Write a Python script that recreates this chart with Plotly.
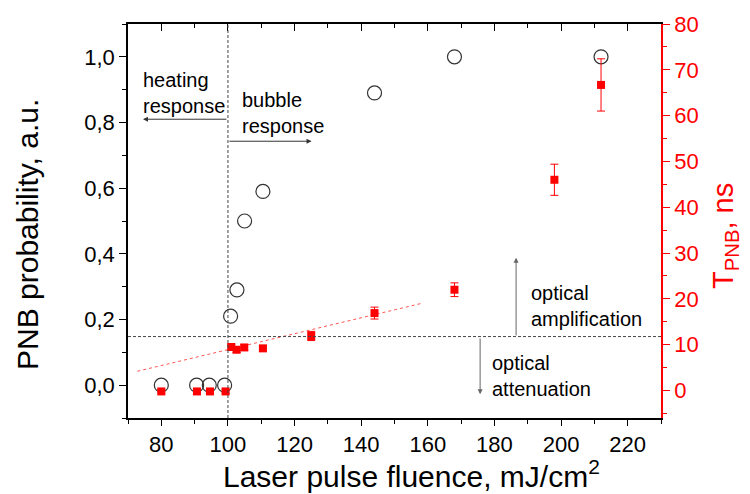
import plotly.graph_objects as go

# Probability (open circles)
prob_x = [80, 90.6, 94.4, 99.0, 100.8, 102.7, 105.0, 110.5, 144, 168, 212]
prob_y = [0.0, 0.0, 0.0, 0.0, 0.21, 0.29, 0.50, 0.59, 0.89, 1.0, 1.0]

# T_PNB (red squares) with error bars
t_x = [80, 90.7, 94.6, 99.3, 101.0, 102.6, 104.9, 110.5, 125, 144, 168, 198, 212]
t_y = [-0.2, -0.2, -0.2, -0.2, 9.5, 8.9, 9.4, 9.2, 11.9, 16.9, 22.0, 46.0, 66.7]
t_err = [0.4, 0.4, 0.4, 0.4, 0.6, 0.6, 0.6, 0.6, 1.0, 1.3, 1.5, 3.4, 5.7]

# Linear fit (dotted red)
fit_x = [72.8, 158]
fit_y = [4.2, 19.0]

x_ticks = [80, 100, 120, 140, 160, 180, 200, 220]
y_ticks = [0.0, 0.2, 0.4, 0.6, 0.8, 1.0]
y_ticktext = ["0,0", "0,2", "0,4", "0,6", "0,8", "1,0"]
y2_ticks = [0, 10, 20, 30, 40, 50, 60, 70, 80]

FONT = "Liberation Sans, Arial, sans-serif"
RED = "#ff0000"
DASH = "3px,2px"

fig = go.Figure()

fig.add_trace(go.Scatter(
    x=fit_x, y=fit_y, mode="lines", yaxis="y2",
    line=dict(color="#ff5555", width=1, dash="dot"), showlegend=False))

fig.add_trace(go.Scatter(
    x=t_x, y=t_y, mode="markers", yaxis="y2",
    marker=dict(symbol="square", size=8, color=RED),
    error_y=dict(type="data", array=t_err, color=RED, thickness=1, width=4),
    showlegend=False))

fig.add_trace(go.Scatter(
    x=prob_x, y=prob_y, mode="markers",
    marker=dict(symbol="circle-open", size=14, color="#333333", line=dict(width=1.2)),
    showlegend=False))

# dummy trace to activate top axis
fig.add_trace(go.Scatter(x=[None], y=[None], xaxis="x2", showlegend=False))

fig.update_layout(
    width=750, height=494,
    margin=dict(l=128, r=89, t=24, b=76),
    paper_bgcolor="white", plot_bgcolor="white",
    font=dict(family=FONT, color="black"),
    xaxis=dict(
        range=[70, 230], tickvals=x_ticks, ticks="outside", ticklen=6,
        tickwidth=1.2, tickcolor="black",
        minor=dict(dtick=10, ticks="outside", ticklen=4, tickcolor="black"),
        showline=True, linecolor="black", linewidth=1.5,
        showgrid=False, zeroline=False,
        tickfont=dict(size=22),
    ),
    xaxis2=dict(
        overlaying="x", side="top", range=[70, 230], tickvals=x_ticks,
        ticks="inside", ticklen=7, tickcolor="black",
        minor=dict(dtick=10, ticks="inside", ticklen=4, tickcolor="black"),
        showticklabels=False, showline=True, linecolor="black", linewidth=1.5,
        showgrid=False, zeroline=False,
    ),
    yaxis=dict(
        range=[-0.1, 1.1], tickvals=y_ticks, ticktext=y_ticktext,
        ticks="outside", ticklen=7, tickwidth=1.2, tickcolor="black",
        minor=dict(dtick=0.1, ticks="outside", ticklen=4, tickcolor="black"),
        showline=True, linecolor="black", linewidth=1.5,
        showgrid=False, zeroline=False,
        tickfont=dict(size=22),
    ),
    yaxis2=dict(
        overlaying="y", side="right", range=[-6, 80], tickvals=y2_ticks,
        ticks="outside", ticklen=7, tickwidth=1.2, tickcolor=RED,
        minor=dict(dtick=5, ticks="outside", ticklen=4, tickcolor=RED),
        showline=True, linecolor=RED, linewidth=1.5,
        showgrid=False, zeroline=False,
        tickfont=dict(size=22, color=RED),
    ),
    shapes=[
        dict(type="line", xref="x", yref="paper", x0=100, x1=100, y0=0, y1=1,
             line=dict(color="#444444", width=1, dash=DASH)),
        dict(type="line", xref="paper", yref="y", x0=0, x1=1, y0=0.148, y1=0.148,
             line=dict(color="#444444", width=1, dash=DASH)),
    ],
)

ann_font = dict(family=FONT, size=20, color="black")
annotations = [
    # axis titles
    dict(x=0.531, y=-0.142, xref="paper", yref="paper", showarrow=False,
         text="Laser pulse fluence, mJ/cm<sup>2</sup>", xanchor="center", yanchor="middle",
         font=dict(family=FONT, size=30, color="black")),
    dict(x=-0.1876, y=0.4645, xref="paper", yref="paper", showarrow=False, textangle=-90,
         text="PNB probability, a.u.", xanchor="center", yanchor="middle",
         font=dict(family=FONT, size=30, color="black")),
    dict(x=1.12, y=0.462, xref="paper", yref="paper", showarrow=False, textangle=-90,
         text="T<sub>PNB</sub>, ns", xanchor="center", yanchor="middle",
         font=dict(family=FONT, size=29, color=RED)),
    # heating response
    dict(x=74.5, y=0.81, ax=100, ay=0.81, xref="x", yref="y", axref="x", ayref="y",
         text="", showarrow=True, arrowhead=2, arrowsize=1, arrowwidth=1, arrowcolor="#333333"),
    dict(x=73.8, y=0.89, xref="x", yref="y", text="heating<br>response", showarrow=False,
         xanchor="left", yanchor="middle", align="left", font=ann_font),
    # bubble response
    dict(x=125.1, y=0.743, ax=100, ay=0.743, xref="x", yref="y", axref="x", ayref="y",
         text="", showarrow=True, arrowhead=2, arrowsize=1, arrowwidth=1, arrowcolor="#333333"),
    dict(x=103.6, y=0.83, xref="x", yref="y", text="bubble<br>response", showarrow=False,
         xanchor="left", yanchor="middle", align="left", font=ann_font),
    # optical amplification
    dict(x=186.5, y=29, ax=186.5, ay=11.7, xref="x", yref="y2", axref="x", ayref="y2",
         text="", showarrow=True, arrowhead=2, arrowsize=1, arrowwidth=1, arrowcolor="#666666"),
    dict(x=190.3, y=18.5, xref="x", yref="y2", text="optical<br>amplification", showarrow=False,
         xanchor="left", yanchor="middle", align="left", font=ann_font),
    # optical attenuation
    dict(x=175.7, y=-0.8, ax=175.7, ay=11.7, xref="x", yref="y2", axref="x", ayref="y2",
         text="", showarrow=True, arrowhead=2, arrowsize=1, arrowwidth=1, arrowcolor="#666666"),
    dict(x=178.6, y=3.2, xref="x", yref="y2", text="optical<br>attenuation", showarrow=False,
         xanchor="left", yanchor="middle", align="left", font=ann_font),
]
fig.update_layout(annotations=annotations)

fig.write_html("out.html", config={"displayModeBar": False},
               post_script="document.body.style.margin='0';")
